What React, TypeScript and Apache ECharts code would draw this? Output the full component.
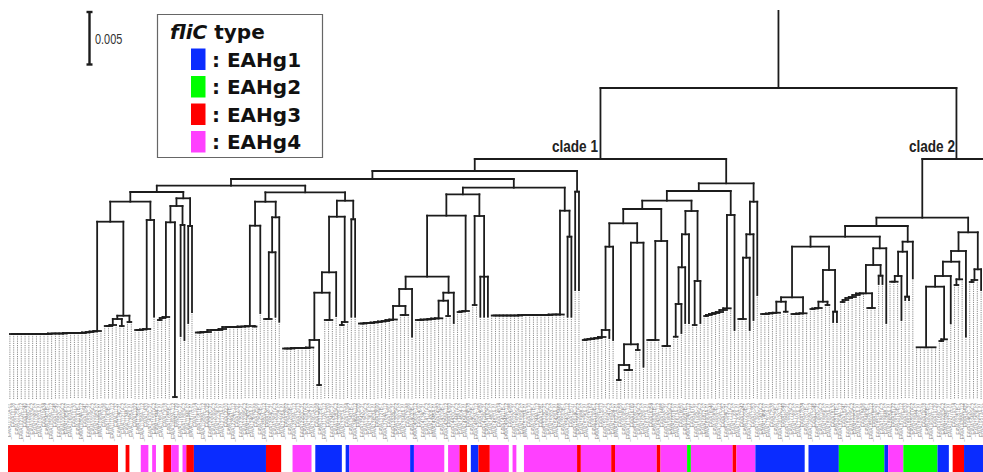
import React, { useEffect, useRef } from "react";
import * as echarts from "echarts";

// ---------- DATA ----------
// Tree: a number is a leaf (depth where its solid branch ends);
// an array is an internal node [depth, ...children]. Depth axis: 52.6 units = 0.005.
type TreeNode = number | TreeNode[];

// ladder (caterpillar) clusters: list of successive join depths
const lad = (joins: number[]): TreeNode => {
  let node: TreeNode = [joins[0], joins[0], joins[0]];
  for (let k = 1; k < joins.length; k++) node = [joins[k], node, joins[k]];
  return node;
};

const ladA = [334, 334, 334, 334, 334, 334, 334, 334, 334, 334, 334, 333.5, 333.5, 333.5, 333.5, 333, 333, 333, 333, 333, 332.5, 332, 331.5, 331];
const ladS = [326, 326, 325];
const ladC = [330, 330, 329.5, 329];
const lad39 = [320, 318, 317];
const lad49 = [332.5, 332.5, 332, 332, 330, 330, 330, 329, 327, 327, 327, 327, 326.5, 326.5];
const lad67 = [319, 319];
const lad72 = [348.5, 348.5, 348.5, 348, 348, 348, 348, 347.5];
const lad83 = [320, 320];
const lad87 = [325, 322];
const lad92 = [323.5, 323.5, 323, 323, 322.5, 322, 321.5, 321, 320, 319.5];
const lad103 = [315, 315];
const lad107 = [320, 320, 319.5, 319.5, 319, 318.5, 318.3];
const lad118 = [312, 311.5, 311];
const lad127 = [315.5, 315.5, 315.5, 315.5, 315.5, 315.5, 315.5, 315.5, 315, 315, 315, 315, 315, 315, 315, 315, 314.5, 314.5, 314.5];
const lad151 = [340, 339.5, 339, 338.5, 338, 337];
const lad162 = [370, 370];
const lad168 = [340, 340, 340];
const lad172 = [346, 346];
const lad183 = [316, 315, 314, 313, 312, 310, 308.3];
const lad192 = [319, 319];
const lad198 = [314, 314, 313.5, 313, 312.7];
const lad206 = [314, 314, 313.5, 313.3];
const lad211 = [309, 308.5, 308];
const lad219 = [302, 300, 298, 297, 295, 293.5];
const lad226 = [308, 308];
const lad232 = [281.7, 281.7];
const lad245 = [341, 339.3];
const lad249 = [285, 279.3];
const lad253 = [282, 280];

// clade 1, left part
const subA: TreeNode = [192,
  [201.7,
    [221.7, lad(ladA), [315.7, [319, lad(ladS), [326, 326, 326]], [322, 322, 322]]],
    [220, lad(ladC), 316.7]],
  [198.3,
    [206, [222.3, lad(lad39), [397, 397, 397]], [225, 336, 340]],
    [226, 323, 312]]];
const subB: TreeNode = [192.3,
  [201.7,
    [225.7, [326, lad(lad49), [326.5, 326.5, 326.5]], 313],
    [217.3, [252.3, lad(lad67), 316.7], 321.7]],
  [200.7,
    [216.7,
      [272.3, [292.7, [340, lad(lad72), [385, 385, 385]], lad(lad83)], 316],
      lad(lad87)],
    [219.3, 316.7, 316.7]]];
const subC: TreeNode = [187.7,
  [194.3,
    [215.7,
      [276.7,
        [289, [306, lad(lad92), lad(lad103)], 336.7],
        [292.7, [300.7, lad(lad107), [316, 316, 316]], 323]],
      lad(lad118)],
    [216, [305, 305, 305], [276.7, 316.7, 316.7, 316.7]]],
  [210.7, lad(lad127), [236.7, 316.7, 316.7]]];
const clade1Left: TreeNode = [171, [179, [185.7, subA, subB], subC], [191.7, 290, 290]];

// clade 1, right part
const subD: TreeNode = [200.7,
  [209,
    [223.3,
      [246.7, [330, lad(lad151), 338], 340],
      [242.7, [344.3, [365, [380, 380, 380], lad(lad162)], [350, 350, 350]], 366.7]],
    [241, lad(lad168), lad(lad172)]],
  [211,
    [234.3, [267.3, [304, [336.7, 336.7, 336.7], 333], 323], 323],
    [281, [325, 325, 325], 323]]];
const clade1Right: TreeNode = [183.3,
  [191, subD, [215, lad(lad183), 330]],
  [201.7, [234.3, [257.7, lad(lad192), 330], 320], 295]];
const clade1: TreeNode = [159, clade1Left, clade1Right];

// clade 2
const subE: TreeNode = [236.7,
  [246.7,
    [297.3, [301.7, lad(lad198), [311.7, 311.7, 311.7]], lad(lad206)],
    [270, [301.7, lad(lad211), [305, 305, 305]], [311.7, 322, 322]]],
  [248.3, [265, [293.3, lad(lad219), lad(lad226)], [275.7, 284, 284]], 323]];
const subF: TreeNode = [241.7, [251.7, [276, lad(lad232), 320], [296.7, 300, 300]], 278.3];
const subG: TreeNode = [232.3,
  [251,
    [261.7,
      [276, [286.7, [347.3, 347.3, 347.3, 347.3, 347.3, 347.3, 347.3], lad(lad245)], 323.3],
      lad(lad249)],
    336.7],
  [269.3, lad(lad253), 290]];
const clade2Hidden: TreeNode = [200, 300, 300, 300, 300];
const clade2: TreeNode = [159, [217.7, [226, subE, subF], subG], clade2Hidden];
const tree: TreeNode = [88, clade1, clade2];
const rootTop = 10;
const leafBase = 399;

// fliC type of each strain, run-length: [type (0 = none), count]
const typeRuns: [number, number][] = [
  [3, 29], [0, 2], [3, 1], [0, 3], [4, 2], [0, 1], [4, 1], [0, 2], [3, 2], [4, 2], [0, 1], [4, 1], [3, 2],
  [1, 19], [3, 4], [0, 3], [4, 5], [0, 1], [1, 7], [0, 1], [1, 1], [4, 16], [1, 1], [4, 8], [0, 1], [4, 3],
  [3, 2], [0, 1], [1, 2], [3, 3], [4, 5], [0, 1], [4, 1], [0, 2], [4, 14], [3, 1], [4, 8], [3, 1], [4, 11],
  [3, 1], [4, 7], [2, 1], [4, 11], [3, 1], [4, 5], [1, 13], [0, 1], [1, 8], [2, 12], [1, 1], [4, 4], [2, 9],
  [1, 3], [0, 1], [3, 3], [1, 5],
];
const typeNames = ["EAHg1", "EAHg2", "EAHg3", "EAHg4"];
const typeColors = ["#0a2cff", "#00ff00", "#ff0000", "#ff40ff"];
const VISIBLE_LEAVES = 257;
const labelSuffixes = ["A-01", "", "B-1", "A-112", "", "C-21", "A-2", "-07"];
const strainLabels = Array.from({ length: VISIBLE_LEAVES }, (_, i) => "_EAVA" + String(10101 + i * 37) + labelSuffixes[i % labelSuffixes.length]);

// ---------- LAYOUT (tree -> segments in data units) ----------
function buildTree() {
  const branches: number[][] = [];
  const tips: number[][] = [];
  let counter = 0;
  const walk = (node: TreeNode, parentH: number): number => {
    if (typeof node === "number") {
      const i = counter++;
      branches.push([i, parentH, i, node]);
      tips.push([i, node, i, leafBase]);
      return i;
    }
    const h = node[0] as number;
    const xs = node.slice(1).map((c) => walk(c as TreeNode, h));
    const x = (xs[0] + xs[xs.length - 1]) / 2;
    branches.push([xs[0], h, xs[xs.length - 1], h]);
    branches.push([x, parentH, x, h]);
    return x;
  };
  walk(tree, rootTop);
  return { branches, tips };
}

export default function App() {
  const ref = useRef<HTMLDivElement>(null);
  useEffect(() => {
    if (!ref.current) return;
    const chart = echarts.init(ref.current, undefined, { renderer: "svg" });
    const { branches, tips } = buildTree();
    const bars: number[][] = [];
    let pos = 0;
    typeRuns.forEach(([t, n]) => {
      if (t > 0) bars.push([pos, pos + n - 1, t]);
      pos += n;
    });
    const lineItem = (color: string, width: number, dash?: number[]) => (_p: any, api: any) => {
      const a = api.coord([api.value(0), api.value(1)]);
      const b = api.coord([api.value(2), api.value(3)]);
      return {
        type: "line",
        shape: { x1: a[0], y1: a[1], x2: b[0], y2: b[1] },
        style: { stroke: color, lineWidth: width, lineDash: dash, lineCap: dash ? "butt" : "square" },
      };
    };
    const legendItems: any[] = [];
    const legendY = [48.5, 76, 103.5, 131];
    typeNames.forEach((nm, k) => {
      legendItems.push({ type: "rect", shape: { x: 191, y: legendY[k], width: 14.5, height: 21.5 }, style: { fill: typeColors[k] } });
      legendItems.push({
        type: "text", x: 212, y: legendY[k] + 11,
        style: { text: ": " + nm, fill: "#111", font: 'bold 20px "DejaVu Sans"', align: "left", verticalAlign: "middle" },
      });
    });
    chart.setOption({
      animation: false,
      grid: { left: 8, right: 0, top: 10, bottom: 0 },
      xAxis: { type: "value", min: -0.5, max: 256.5, show: false },
      yAxis: { type: "value", min: 10, max: 472, inverse: true, show: false },
      series: [
        { type: "custom", clip: true, data: tips, renderItem: lineItem("#8e8e8e", 1, [1.2, 1]), z: 1 },
        { type: "custom", clip: true, data: branches, renderItem: lineItem("#1c1c1c", 1.8), z: 2 },
        {
          type: "custom", clip: true, data: strainLabels.map((_, i) => [i]), z: 1,
          renderItem: (p: any, api: any) => {
            const a = api.coord([api.value(0), 403]);
            return {
              type: "text", x: a[0], y: a[1], rotation: Math.PI / 2,
              style: { text: strainLabels[p.dataIndex], fontSize: 4.6, fontFamily: "Liberation Sans", fill: "#8a8a8a", align: "right", verticalAlign: "middle" },
            };
          },
        },
        {
          type: "custom", clip: true, data: bars, z: 1,
          renderItem: (_p: any, api: any) => {
            const a = api.coord([api.value(0) - 0.5, 445]);
            const b = api.coord([api.value(1) + 0.5, 472]);
            return { type: "rect", shape: { x: a[0], y: a[1], width: b[0] - a[0], height: b[1] - a[1] }, style: { fill: typeColors[api.value(2) - 1] } };
          },
        },
      ],
      graphic: [
        { type: "line", shape: { x1: 89.5, y1: 12, x2: 89.5, y2: 64.5 }, style: { stroke: "#1c1c1c", lineWidth: 2.4 } },
        { type: "line", shape: { x1: 86.5, y1: 12, x2: 92.5, y2: 12 }, style: { stroke: "#1c1c1c", lineWidth: 2.4 } },
        { type: "line", shape: { x1: 86.5, y1: 64.5, x2: 92.5, y2: 64.5 }, style: { stroke: "#1c1c1c", lineWidth: 2.4 } },
        { type: "text", x: 95, y: 40, scaleX: 0.78, style: { text: "0.005", font: '14px "Liberation Sans"', fill: "#333", align: "left", verticalAlign: "middle" } },
        { type: "rect", shape: { x: 157.5, y: 14.5, width: 165, height: 143 }, style: { fill: "#fff", stroke: "#666", lineWidth: 1.2 } },
        {
          type: "text", x: 170, y: 32,
          style: {
            text: "{i|fliC} type", fill: "#111", font: 'bold 20px "DejaVu Sans"', align: "left", verticalAlign: "middle",
            rich: { i: { fontStyle: "italic", fontWeight: "bold", fontSize: 20, fontFamily: "DejaVu Sans" } },
          },
        },
        ...legendItems,
        { type: "text", x: 598, y: 154, scaleX: 0.8, style: { text: "clade 1", font: 'bold 17px "Liberation Sans"', fill: "#222", align: "right", verticalAlign: "bottom" } },
        { type: "text", x: 955, y: 154, scaleX: 0.8, style: { text: "clade 2", font: 'bold 17px "Liberation Sans"', fill: "#222", align: "right", verticalAlign: "bottom" } },
      ],
    });
    return () => chart.dispose();
  }, []);
  return <div ref={ref} style={{ position: "fixed", left: 0, top: 0, width: 983, height: 472, background: "#fff" }} />;
}
